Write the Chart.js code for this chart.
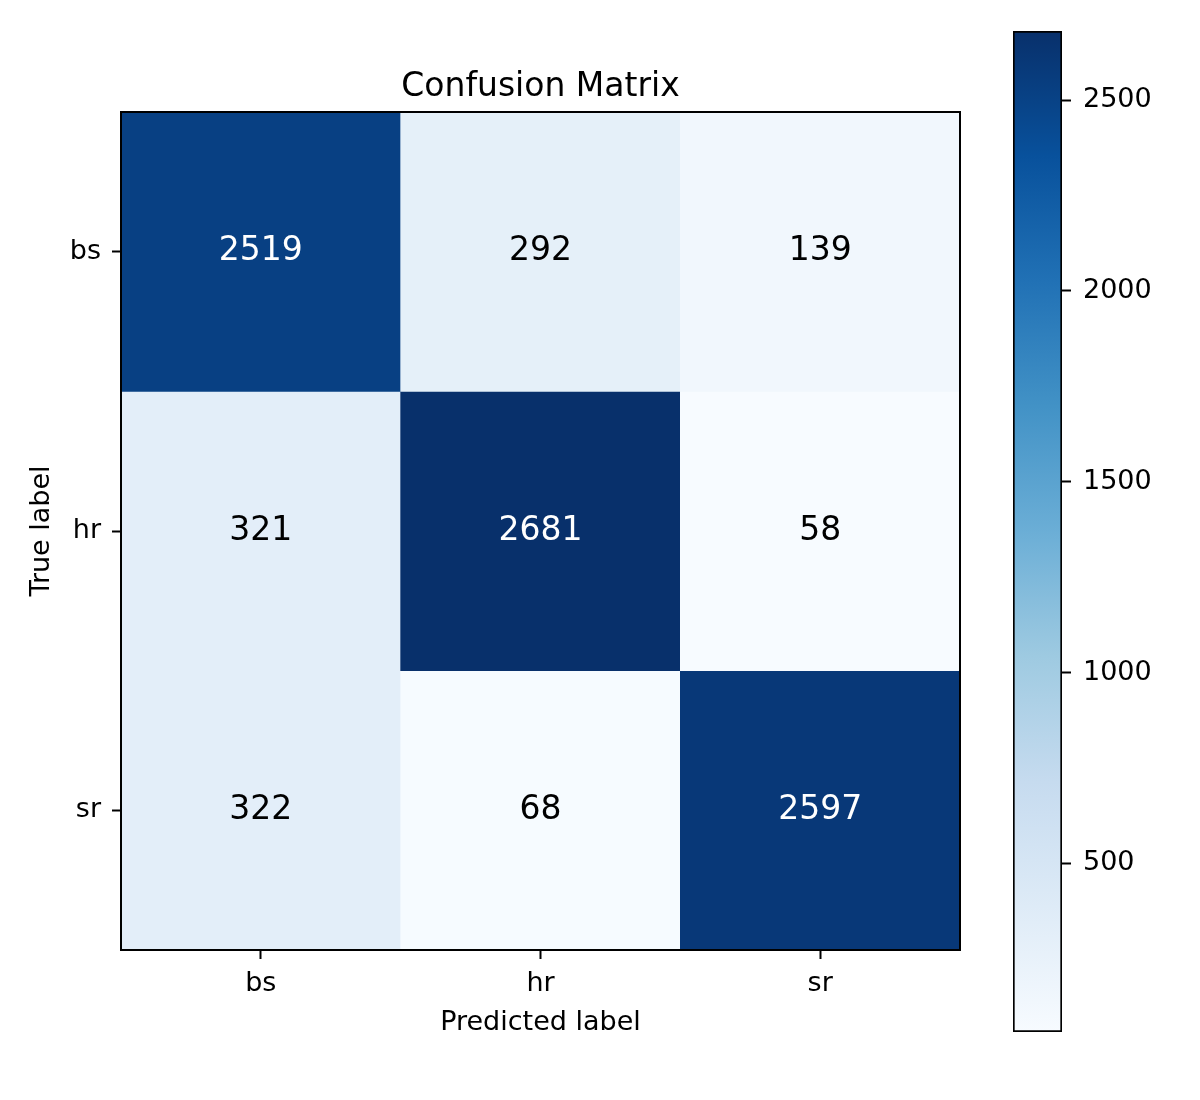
<!DOCTYPE html>
<html>
<head>
<meta charset="utf-8">
<script src="https://cdn.jsdelivr.net/npm/chart.js@4.4.0/dist/chart.umd.min.js"></script>
<style>
  html, body { margin: 0; padding: 0; background: #ffffff; }
  #wrap { position: relative; width: 1200px; height: 1100px; }
  #heat { position: absolute; left: 0; top: 0; }
  #cbar { position: absolute; left: 1000px; top: 0; }
</style>
</head>
<body>
<div id="wrap">
  <canvas id="heat" width="1000" height="1100"></canvas>
  <canvas id="cbar" width="200" height="1100"></canvas>
</div>
<script>
// ---- data ----
const predictedLabels = ['bs', 'hr', 'sr'];
const trueLabels = ['bs', 'hr', 'sr'];
const row_bs = [2519, 292, 139];
const row_hr = [321, 2681, 58];
const row_sr = [322, 68, 2597];
const colorbarTicks = [500, 1000, 1500, 2000, 2500];

// ---- styling ----
const bluesStops = ['#f7fbff', '#deebf7', '#c6dbef', '#9ecae1', '#6baed6', '#4292c6', '#2171b5', '#08519c', '#08306b'];
const FONT = 'DejaVu Sans';
Chart.defaults.font.family = FONT;
Chart.defaults.color = '#000';

const matrix = [row_bs, row_hr, row_sr];
const allVals = matrix.flat();
const vmin = Math.min(...allVals);
const vmax = Math.max(...allVals);
const thresh = vmax / 2;

function hexToRgb(h) {
  return [parseInt(h.slice(1, 3), 16), parseInt(h.slice(3, 5), 16), parseInt(h.slice(5, 7), 16)];
}
function blues(t) {
  t = Math.max(0, Math.min(1, t));
  const n = bluesStops.length - 1;
  const p = t * n;
  const i = Math.min(n - 1, Math.floor(p));
  const f = p - i;
  const a = hexToRgb(bluesStops[i]), b = hexToRgb(bluesStops[i + 1]);
  const c = a.map((av, k) => Math.round(av + (b[k] - av) * f));
  return `rgb(${c[0]},${c[1]},${c[2]})`;
}

const heatDatasets = matrix.map((row, i) => ({
  label: trueLabels[i],
  data: row.map(() => [i, i + 1]),
  backgroundColor: row.map(v => blues((v - vmin) / (vmax - vmin))),
  borderWidth: 0,
  grouped: false,
  barPercentage: 1,
  categoryPercentage: 1
}));

const cellText = {
  id: 'cellText',
  afterDatasetsDraw(chart) {
    const { ctx, chartArea, scales: { x, y } } = chart;
    ctx.save();
    ctx.font = `33px "${FONT}"`;
    ctx.textAlign = 'center';
    ctx.textBaseline = 'alphabetic';
    matrix.forEach((row, i) => row.forEach((v, j) => {
      ctx.fillStyle = v > thresh ? '#ffffff' : '#000000';
      ctx.fillText(String(v), x.getPixelForValue(j), y.getPixelForValue(i + 0.5) + 0.26 * 33);
    }));
    // frame around the axes box, drawn above the cells
    ctx.strokeStyle = '#000';
    ctx.lineWidth = 2;
    ctx.strokeRect(chartArea.left, chartArea.top, chartArea.right - chartArea.left, chartArea.bottom - chartArea.top);
    ctx.restore();
  }
};

const tickGrid = { display: true, drawOnChartArea: false, drawTicks: true, tickLength: 9, tickWidth: 2, tickColor: '#000', offset: false };
const blackBorder = { display: true, color: '#000', width: 2 };

new Chart(document.getElementById('heat'), {
  type: 'bar',
  data: { labels: predictedLabels, datasets: heatDatasets },
  options: {
    responsive: false,
    animation: false,
    layout: { padding: 0 },
    plugins: { legend: { display: false }, tooltip: { enabled: false }, title: { display: false } },
    scales: {
      x: {
        type: 'category', position: 'bottom', offset: true,
        grid: tickGrid, border: blackBorder,
        ticks: { color: '#000', font: { size: 27 }, padding: 9 },
        title: { display: true, text: 'Predicted label', color: '#000', font: { size: 27 }, padding: { top: 0, bottom: 61 } },
        afterFit: s => { s.height = 150; }
      },
      y: {
        type: 'linear', position: 'left', reverse: true, min: 0, max: 3,
        afterBuildTicks: s => { s.ticks = trueLabels.map((_, i) => ({ value: i + 0.5 })); },
        grid: tickGrid, border: blackBorder,
        ticks: { color: '#000', font: { size: 27 }, padding: 11, autoSkip: false, callback: (v, idx) => trueLabels[idx] },
        title: { display: true, text: 'True label', color: '#000', font: { size: 27 }, padding: { top: 26, bottom: 0 } },
        afterFit: s => { s.width = 121; }
      },
      x2: {
        type: 'category', position: 'top',
        grid: { display: false }, border: blackBorder,
        ticks: { display: false },
        title: { display: true, text: 'Confusion Matrix', color: '#000', font: { size: 33 }, padding: { top: 68, bottom: 0 } },
        afterFit: s => { s.height = 112; }
      },
      y2: {
        type: 'linear', position: 'right',
        grid: { display: false }, border: blackBorder,
        ticks: { display: false },
        afterFit: s => { s.width = 40; }
      }
    }
  },
  plugins: [cellText]
});

function cbarGradient(context) {
  const chart = context.chart;
  const area = chart.chartArea;
  if (!area) return bluesStops[4];
  const g = chart.ctx.createLinearGradient(0, area.bottom, 0, area.top);
  bluesStops.forEach((c, k) => g.addColorStop(k / (bluesStops.length - 1), c));
  return g;
}

new Chart(document.getElementById('cbar'), {
  type: 'bar',
  data: {
    labels: [''],
    datasets: [{
      data: [[vmin, vmax]],
      backgroundColor: cbarGradient,
      borderColor: '#000',
      borderWidth: 2,
      borderSkipped: false,
      barPercentage: 1,
      categoryPercentage: 1
    }]
  },
  options: {
    responsive: false,
    animation: false,
    layout: { padding: { left: 13, top: 31, bottom: 68, right: 0 } },
    plugins: { legend: { display: false }, tooltip: { enabled: false } },
    scales: {
      x: { display: false },
      y: {
        position: 'right', min: vmin, max: vmax,
        afterBuildTicks: s => { s.ticks = colorbarTicks.map(v => ({ value: v })); },
        grid: { display: true, drawOnChartArea: false, drawTicks: true, tickLength: 9, tickWidth: 2, tickColor: '#000' },
        border: { display: false },
        ticks: { color: '#000', font: { size: 27 }, padding: 12, autoSkip: false, callback: v => String(v) },
        afterFit: s => { s.width = 138; }
      }
    }
  }
});
</script>
</body>
</html>
